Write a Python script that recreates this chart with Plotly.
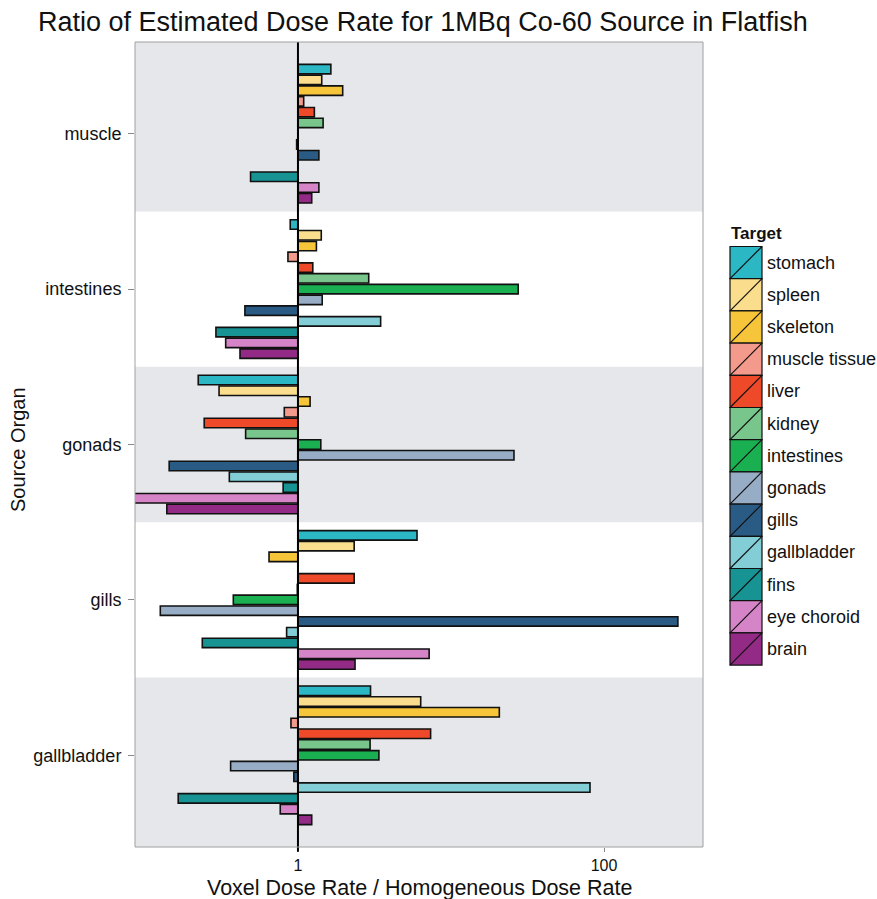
import plotly.graph_objects as go

W, H = 877, 899
PANEL_L, PANEL_R, PANEL_T, PANEL_B = 135, 703, 42, 847

SOURCES = ["muscle", "intestines", "gonads", "gills", "gallbladder"]
TARGETS = ["stomach", "spleen", "skeleton", "muscle tissue", "liver", "kidney",
           "intestines", "gonads", "gills", "gallbladder", "fins", "eye choroid", "brain"]
COLORS = ["#2BB7C4", "#FADE8E", "#F6C53A", "#F39A8C", "#EE4A2A", "#78C68C",
          "#1AAF50", "#97ADC6", "#2A5B85", "#82CDD6", "#189393", "#D584C8", "#922A86"]

# ratio per target, one value per source organ (muscle, intestines, gonads, gills, gallbladder)
stomach = [1.64, 0.89, 0.223, 6.0, 2.98]
spleen = [1.43, 1.42, 0.305, 2.33, 6.34]
skeleton = [1.96, 1.32, 1.20, 0.647, 20.7]
muscle_tissue = [1.09, 0.86, 0.814, 1.0, 0.90]
liver = [1.28, 1.25, 0.244, 2.33, 7.36]
kidney = [1.46, 2.90, 0.455, 0.99, 2.96]
intestines = [1.0, 27.5, 1.41, 0.378, 3.38]
gonads = [0.98, 1.44, 25.8, 0.126, 0.363]
gills = [1.37, 0.45, 0.144, 304.0, 0.94]
gallbladder = [1.0, 3.47, 0.356, 0.843, 81.0]
fins = [0.49, 0.291, 0.80, 0.237, 0.165]
eye_choroid = [1.37, 0.337, 0.07, 7.2, 0.766]
brain = [1.23, 0.418, 0.139, 2.36, 1.23]

VALUES = [stomach, spleen, skeleton, muscle_tissue, liver, kidney, intestines,
          gonads, gills, gallbladder, fins, eye_choroid, brain]

INK = "#111111"


def px_x(p):
    return (p - PANEL_L) / (PANEL_R - PANEL_L)


def px_y(p):
    return (PANEL_B - p) / (PANEL_B - PANEL_T)


fig = go.Figure()

for name, color, vals in zip(TARGETS, COLORS, VALUES):
    fig.add_trace(go.Bar(
        y=SOURCES, x=[v - 1 for v in vals], base=[1] * len(vals),
        orientation="h", name=name, customdata=vals,
        marker=dict(color=color, line=dict(color=INK, width=1.6)),
        hovertemplate=name + ": %{customdata:.3g}<extra></extra>",
        showlegend=False,
    ))

shapes = []
# alternating background bands
for i in range(len(SOURCES)):
    if i % 2 == 0:
        shapes.append(dict(type="rect", xref="paper", yref="y", x0=0, x1=1,
                           y0=i - 0.5 if i > 0 else -0.6, y1=i + 0.5 if i < len(SOURCES) - 1 else 4.6,
                           fillcolor="#E5E7EA", line=dict(width=0), layer="below"))
shapes.append(dict(type="line", xref="x", yref="paper", x0=1, x1=1, y0=-0.006, y1=1,
                   line=dict(color="black", width=2)))
shapes.append(dict(type="rect", xref="paper", yref="paper", x0=0, x1=1, y0=0, y1=1,
                   line=dict(color="#A0A0A0", width=1)))

# legend drawn by hand so the keys match the big square swatches
annotations = []
key_top, key_h, key_l, key_r = 246.5, 32.2, 730, 762
annotations.append(dict(text="<b>Target</b>", x=px_x(729), y=px_y(233), xref="paper", yref="paper",
                        xanchor="left", yanchor="middle", showarrow=False,
                        font=dict(size=17, color=INK)))
for k, (name, color) in enumerate(zip(TARGETS, COLORS)):
    t = key_top + k * key_h
    b = t + key_h
    shapes.append(dict(type="rect", xref="paper", yref="paper",
                       x0=px_x(key_l), x1=px_x(key_r), y0=px_y(b), y1=px_y(t),
                       fillcolor=color, line=dict(color=INK, width=1.2)))
    shapes.append(dict(type="line", xref="paper", yref="paper",
                       x0=px_x(key_l), x1=px_x(key_r), y0=px_y(b), y1=px_y(t),
                       line=dict(color=INK, width=1.2)))
    annotations.append(dict(text=name, x=px_x(765), y=px_y(t + key_h / 2), xref="paper", yref="paper",
                            xanchor="left", yanchor="middle", showarrow=False,
                            font=dict(size=18, color=INK)))

annotations.append(dict(text="Ratio of Estimated Dose Rate for 1MBq Co-60 Source in Flatfish",
                        x=px_x(423), y=px_y(22), xref="paper", yref="paper",
                        xanchor="center", yanchor="middle", showarrow=False,
                        font=dict(size=27, color=INK)))
annotations.append(dict(text="Voxel Dose Rate / Homogeneous Dose Rate",
                        x=0.5, y=px_y(888), xref="paper", yref="paper",
                        xanchor="center", yanchor="middle", showarrow=False,
                        font=dict(size=21.5, color=INK)))
annotations.append(dict(text="Source Organ", textangle=-90,
                        x=px_x(18), y=px_y(450), xref="paper", yref="paper",
                        xanchor="center", yanchor="middle", showarrow=False,
                        font=dict(size=20, color=INK)))

fig.update_layout(
    width=W, height=H,
    margin=dict(l=PANEL_L, r=W - PANEL_R, t=PANEL_T, b=H - PANEL_B),
    paper_bgcolor="white", plot_bgcolor="white",
    font=dict(family="Liberation Sans, Arial, sans-serif", color=INK),
    barmode="group", bargap=0.1, bargroupgap=0.12,
    shapes=shapes, annotations=annotations,
    xaxis=dict(type="log", range=[-1.065, 2.647], tickvals=[1, 100], ticktext=["1", "100"],
               showgrid=False, zeroline=False, ticks="outside", ticklen=4, tickcolor="#888888",
               ticklabelstandoff=0, tickfont=dict(size=16, color=INK)),
    yaxis=dict(type="category", categoryorder="array", categoryarray=SOURCES,
               range=[4.59, -0.59], showgrid=False, zeroline=False,
               ticks="outside", ticklen=6, tickcolor="#888888", ticklabelstandoff=3,
               tickfont=dict(size=18, color=INK)),
)

# drop the default 8px body margin so the figure sits at the window's corner
fig.write_html("out.html", config={"displayModeBar": False},
               post_script="document.body.style.margin='0';")
